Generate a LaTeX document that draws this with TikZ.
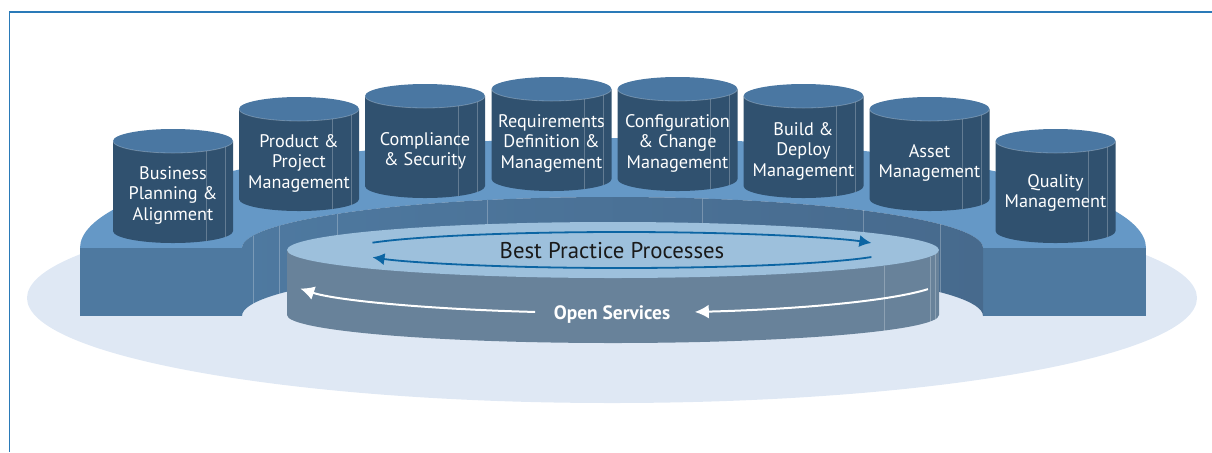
\documentclass[tikz,border=0pt]{standalone}
\usepackage{fontspec}
\setmainfont{PT Sans}
\usepackage{tikz}
\usepackage{xcolor}
\usetikzlibrary{arrows.meta}

\definecolor{haze}{HTML}{DFE8F4}
\definecolor{deck}{HTML}{6598C6}
\definecolor{deckfront}{HTML}{4E79A0}
\definecolor{wall}{HTML}{476A8D}
\definecolor{drum}{HTML}{30516F}
\definecolor{drumtop}{HTML}{4A77A2}
\definecolor{disctop}{HTML}{9DC0DC}
\definecolor{discside}{HTML}{68829A}
\definecolor{flowblue}{HTML}{0C65A3}
\definecolor{frameblue}{HTML}{2A7AB8}

\begin{document}
\begin{tikzpicture}[x=0.5pt, y=0.5pt, yscale=-1,
    drumtext/.style={text=white, align=center, inner sep=0pt, font=\fontsize{9.1}{10.25}\selectfont},
    facet/.style={draw=white, draw opacity=0.25, line width=0.4pt},
    flow/.style={draw=flowblue, line width=0.9pt, -{Latex[length=6pt, width=6pt]}},
    service/.style={draw=white, line width=1pt, -{Latex[length=7pt, width=7pt]}}]
    \useasboundingbox (0,0) rectangle (1212,452);

    % frame
    \draw[frameblue, line width=0.75pt] (1212,12) -- (9.5,12) -- (9.5,452);

    % floor shadow
    \fill[haze] (612,298) ellipse [x radius=585, y radius=105];

    % horseshoe deck
    \fill[deck] (80,248) arc[start angle=180, end angle=360, x radius=533, y radius=110]
        -- (983,248) arc[start angle=360, end angle=180, x radius=370.5, y radius=51] -- cycle;
    \fill[deckfront] (80,248) rectangle (242,316);
    \fill[deckfront] (983,248) rectangle (1146,316);
    \shade[left color=deckfront, middle color=wall, right color=wall]
        (242,248) arc[start angle=180, end angle=360, x radius=370.5, y radius=51]
        -- (983,316) arc[start angle=360, end angle=180, x radius=370.5, y radius=51] -- cycle;
    \foreach \x in {253, 279, 337, 487, 702, 863, 940}
        \draw[facet] (\x,{248-51*sqrt(1-((\x-612.5)/370.5)*((\x-612.5)/370.5))}) -- ++(0,68);

    % inner disc
    \fill[discside] (287,250) -- (287,315) arc[start angle=180, end angle=0, x radius=326, y radius=28] -- (939,250) -- cycle;
    \foreach \x in {884, 930, 935}
        \draw[facet] (\x,{250+28*sqrt(1-((\x-613)/326)*((\x-613)/326))}) -- ++(0,65);
    \fill[disctop] (613,250) ellipse [x radius=326, y radius=28];

    \draw[flow] (621,250) ++(204:272 and 18) arc[start angle=204, end angle=337, x radius=272, y radius=18];
    \draw[flow] (621,250) ++(23:272 and 18) arc[start angle=23, end angle=156, x radius=272, y radius=18];
    \draw[service] (615,278) ++(18.5:330 and 35) arc[start angle=18.5, end angle=76, x radius=330, y radius=35];
    \draw[service] (615,278) ++(104:330 and 35) arc[start angle=104, end angle=162.5, x radius=330, y radius=35];

    \node[inner sep=0pt, text=black!90, font=\fontsize{11.4}{12}\selectfont] (bpp) at (612,251) {Best Practice Processes};
    \node[inner sep=0pt, text=white, font=\fontsize{9.7}{12}\selectfont\bfseries] (osv) at (612,315) {Open Services};

    % cylinders
    \foreach \cx/\cy in {173/141, 299/109, 425/96, 551.5/89, 677.5/89, 803.5/96, 929.5/109, 1055.5/141} {
        \fill[drum] (\cx-60,\cy) -- (\cx-60,\cy+90) arc[start angle=180, end angle=0, x radius=60, y radius=12] -- (\cx+60,\cy) -- cycle;
        \draw[facet] (\cx+33,\cy+10) -- (\cx+33,\cy+100);
        \draw[facet] (\cx+52,\cy+6) -- (\cx+52,\cy+96);
        \fill[drumtop] (\cx,\cy) ellipse [x radius=60, y radius=12];
        \draw[facet] (\cx-60,\cy) arc[start angle=180, end angle=0, x radius=60, y radius=12];
    }

    \node[drumtext] (bpa) at (173,195) {Business\\Planning \&\\Alignment};
    \node[drumtext] (ppm) at (299,163) {Product \&\\Project\\Management};
    \node[drumtext] (cas) at (425,151) {Compliance\\\& Security};
    \node[drumtext] (rdm) at (551.5,143) {Requirements\\Definition \&\\Management};
    \node[drumtext] (ccm) at (677.5,143) {Configuration\\\& Change\\Management};
    \node[drumtext] (bdm) at (803.5,151) {Build \&\\Deploy\\Management};
    \node[drumtext] (asm) at (929.5,163) {Asset\\Management};
    \node[drumtext] (qlm) at (1055.5,193) {Quality\\Management};
\end{tikzpicture}
\end{document}
